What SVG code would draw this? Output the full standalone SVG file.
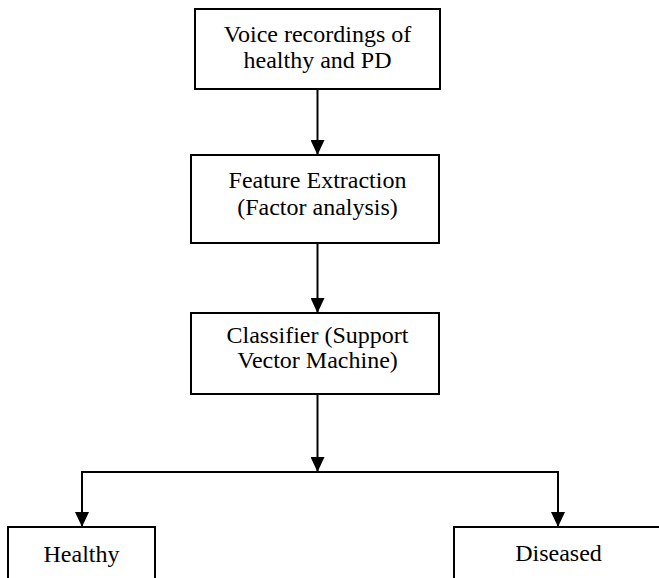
<svg xmlns="http://www.w3.org/2000/svg" width="659" height="578" viewBox="0 0 659 578">
  <style>
    .box { fill: #ffffff; stroke: #000000; stroke-width: 2; }
    .label { font-family: "Liberation Serif", "Times New Roman", serif; font-size: 24px; fill: #000000; text-anchor: middle; }
    .wire { fill: none; stroke: #000000; stroke-width: 2; }
  </style>
  <defs>
    <marker id="arrow" markerWidth="15" markerHeight="14" refX="15" refY="7" orient="auto" markerUnits="userSpaceOnUse">
      <path d="M0,0 L15,7 L0,14 Z" fill="#000000"/>
    </marker>
  </defs>
  <rect width="659" height="578" fill="#ffffff"/>

  <g id="connectors">
    <line class="wire" x1="317.5" y1="89" x2="317.5" y2="155" marker-end="url(#arrow)"/>
    <line class="wire" x1="317.5" y1="243" x2="317.5" y2="313" marker-end="url(#arrow)"/>
    <line class="wire" x1="317.5" y1="394" x2="317.5" y2="472" marker-end="url(#arrow)"/>
    <polyline class="wire" points="82,527 82,472 558,472 558,527"/>
    <line class="wire" x1="82" y1="472" x2="82" y2="527" marker-end="url(#arrow)"/>
    <line class="wire" x1="558" y1="472" x2="558" y2="527" marker-end="url(#arrow)"/>
  </g>

  <g id="voice-recordings">
    <rect class="box" x="195" y="9" width="245" height="80"/>
    <text class="label" x="317.5" y="42">Voice recordings of</text>
    <text class="label" x="317.5" y="68">healthy and PD</text>
  </g>

  <g id="feature-extraction">
    <rect class="box" x="191" y="155" width="248" height="88"/>
    <text class="label" x="317.5" y="188">Feature Extraction</text>
    <text class="label" x="317.5" y="215">(Factor analysis)</text>
  </g>

  <g id="classifier">
    <rect class="box" x="191" y="313" width="248" height="81"/>
    <text class="label" x="317.5" y="343">Classifier (Support</text>
    <text class="label" x="317.5" y="368">Vector Machine)</text>
  </g>

  <g id="healthy">
    <rect class="box" x="8" y="527" width="147" height="60"/>
    <text class="label" x="81.5" y="562">Healthy</text>
  </g>

  <g id="diseased">
    <rect class="box" x="454" y="527" width="215" height="60"/>
    <text class="label" x="558.5" y="561">Diseased</text>
  </g>
</svg>
